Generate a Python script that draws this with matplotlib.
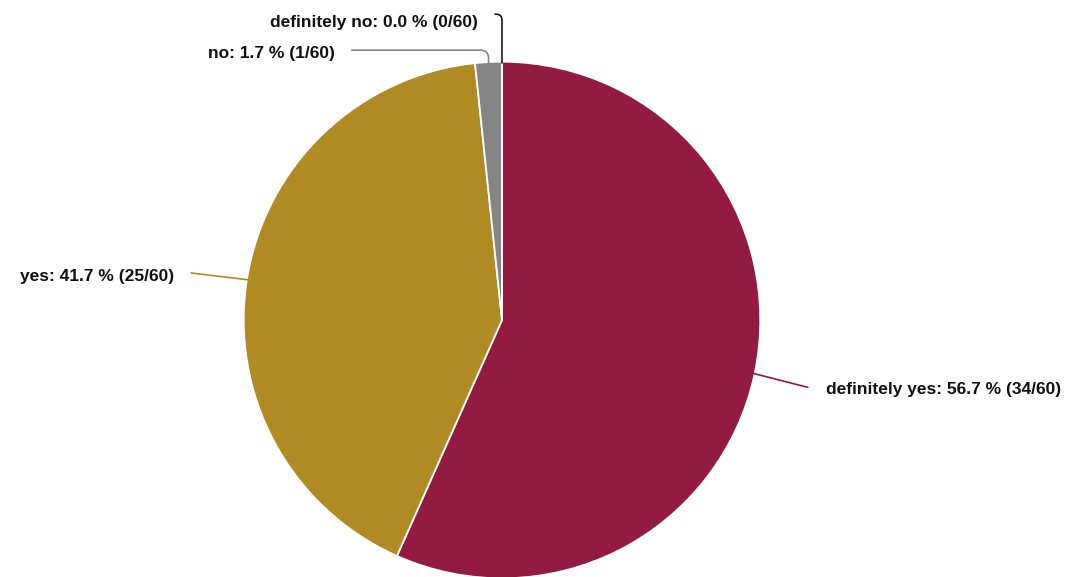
import numpy as np
import matplotlib.pyplot as plt

plt.rcParams["font.family"] = ["Liberation Sans", "DejaVu Sans"]

labels = ["definitely yes", "yes", "no", "definitely no"]
counts = [34, 25, 1, 0]
total = 60
colors = ["#931a41", "#b08a22", "#858585", "#1a1a1a"]

# where each label's leader line ends (data units, pie radius = 1)
line_ends = [(1.19, -0.262), (-1.21, 0.183), (-0.585, 1.05), (-0.027, 1.19)]
conn_styles = [
    "arc3,rad=0",
    "arc3,rad=0",
    "angle,angleA=0,angleB=90,rad=8",
    "angle,angleA=0,angleB=90,rad=6",
]

fig = plt.figure(figsize=(10.68, 5.77), dpi=100)
ax = fig.add_axes([0, 0, 1, 1])

wedges, _ = ax.pie(
    counts,
    colors=colors,
    startangle=90,
    counterclock=False,
    radius=1.005,
    wedgeprops=dict(edgecolor="white", linewidth=1.3),
)

for w, lab, c, col, end, cs in zip(wedges, labels, counts, colors, line_ends, conn_styles):
    ang = np.deg2rad((w.theta1 + w.theta2) / 2)
    edge = (np.cos(ang), np.sin(ang))
    ax.annotate(
        "",
        xy=edge,
        xytext=end,
        arrowprops=dict(arrowstyle="-", color=col, lw=1.2, shrinkA=0, shrinkB=0,
                        connectionstyle=cs),
    )
    txt = f"{lab}: {100 * c / total:.1f} % ({c}/{total})"
    if end[0] > 0:
        ax.text(end[0] + 0.07, end[1] - 0.008, txt, ha="left", va="center",
                fontsize=12.5, fontweight="bold", color="#111111")
    else:
        ax.text(end[0] - 0.065, end[1] - 0.012 - (0.02 if abs(end[0]) < 0.1 else 0),
                txt, ha="right", va="center",
                fontsize=12.5, fontweight="bold", color="#111111")

px = 257.0
ax.set_xlim(-502 / px, (1068 - 502) / px)
ax.set_ylim(-(577 - 320) / px, 320 / px)
ax.set_aspect("equal")
ax.axis("off")

fig.savefig("out.png", dpi=100)
